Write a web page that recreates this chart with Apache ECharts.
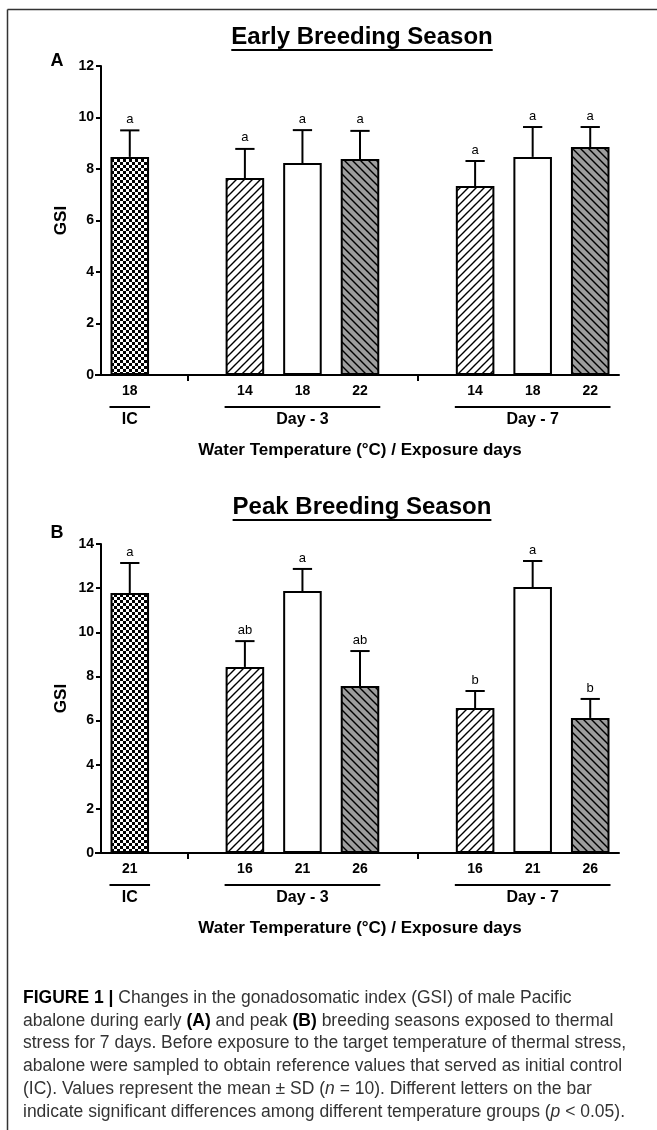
<!DOCTYPE html>
<html><head><meta charset="utf-8">
<script src="https://cdn.jsdelivr.net/npm/echarts@6/dist/echarts.min.js"></script>
<style>html,body{margin:0;padding:0;background:#fff}#c{width:657px;height:1130px}</style>
</head><body><div id="c"></div>
<script>
// ---------- DATA ----------
const tempsA   = ['18', '', '14', '18', '22', '', '14', '18', '22'];
const meanA    = [8.47, null, 7.65, 8.23, 8.39, null, 7.34, 8.47, 8.85];
const sdA      = [1.03, null, 1.13, 1.28, 1.09, null, 0.97, 1.16, 0.78];
const lettersA = ['a', '', 'a', 'a', 'a', '', 'a', 'a', 'a'];
const yTicksA  = [0, 2, 4, 6, 8, 10, 12];

const tempsB   = ['21', '', '16', '21', '26', '', '16', '21', '26'];
const meanB    = [11.78, null, 8.43, 11.87, 7.57, null, 6.57, 12.05, 6.12];
const sdB      = [1.36, null, 1.17, 1.00, 1.58, null, 0.77, 1.18, 0.86];
const lettersB = ['a', '', 'ab', 'a', 'ab', '', 'b', 'a', 'b'];
const yTicksB  = [0, 2, 4, 6, 8, 10, 12, 14];

const groupLabels = ['IC', 'Day - 3', 'Day - 7'];
const groupFirst  = [0, 2, 6];
const groupLast   = [0, 4, 8];

const titleA = 'Early Breeding Season';
const titleB = 'Peak Breeding Season';
const yName = 'GSI';
const xName = 'Water Temperature (\u00B0C) / Exposure days';

const captionLines = [
  '{b|FIGURE 1 |} Changes in the gonadosomatic index (GSI) of male Pacific',
  'abalone during early {b|(A)} and peak {b|(B)} breeding seasons exposed to thermal',
  'stress for 7 days. Before exposure to the target temperature of thermal stress,',
  'abalone were sampled to obtain reference values that served as initial control',
  '(IC). Values represent the mean \u00B1 SD ({i|n} = 10). Different letters on the bar',
  'indicate significant differences among different temperature groups ({i|p} < 0.05).'
];

// ---------- STYLE / LAYOUT ----------
const FONT = '"Liberation Sans", Arial, Helvetica, sans-serif';
const CAP_SIZE = 17.5;
const GRID_LEFT = 101, GRID_W = 518, GRID_H = 309;
const panels = [
  {tag: 'A', cats: tempsA, mean: meanA, sd: sdA, letters: lettersA, ticks: yTicksA, title: titleA, top: 66, titleDy: -29, tagDy: -5},
  {tag: 'B', cats: tempsB, mean: meanB, sd: sdB, letters: lettersB, ticks: yTicksB, title: titleB, top: 544, titleDy: -37, tagDy: -11}
];

function makePattern(kind) {
  const c = document.createElement('canvas');
  const g = c.getContext('2d');
  if (kind === 'check') {
    c.width = 6; c.height = 6;
    g.fillStyle = '#fff'; g.fillRect(0, 0, 6, 6);
    g.fillStyle = '#000'; g.fillRect(0, 0, 3, 3); g.fillRect(3, 3, 3, 3);
  } else {
    const s = 8; c.width = s; c.height = s;
    g.fillStyle = kind === 'back' ? '#9d9d9d' : '#fff'; g.fillRect(0, 0, s, s);
    g.strokeStyle = '#000'; g.lineWidth = 1.4; g.beginPath();
    if (kind === 'fwd') {
      g.moveTo(-1, s + 1); g.lineTo(s + 1, -1);
      g.moveTo(-1, 1); g.lineTo(1, -1);
      g.moveTo(s - 1, s + 1); g.lineTo(s + 1, s - 1);
    } else {
      g.moveTo(-1, -1); g.lineTo(s + 1, s + 1);
      g.moveTo(s - 1, -1); g.lineTo(s + 1, 1);
      g.moveTo(-1, s - 1); g.lineTo(1, s + 1);
    }
    g.stroke();
  }
  return {image: c, repeat: 'repeat'};
}
const PAT = {check: makePattern('check'), fwd: makePattern('fwd'), back: makePattern('back'), plain: '#fff'};
function fillFor(i) {
  for (let g = 0; g < groupFirst.length; g++) {
    if (i >= groupFirst[g] && i <= groupLast[g]) {
      if (g === 0) return PAT.check;
      const k = i - groupFirst[g];
      return k === 0 ? PAT.fwd : (k === 1 ? PAT.plain : PAT.back);
    }
  }
  return '#fff';
}

const chart = echarts.init(document.getElementById('c'), null, {width: 657, height: 1130});

const option = {
  animation: false,
  textStyle: {fontFamily: FONT},
  grid: panels.map(p => ({left: GRID_LEFT, top: p.top, width: GRID_W, height: GRID_H})),
  xAxis: panels.map((p, k) => ({
    type: 'category', gridIndex: k, data: p.cats,
    axisLine: {lineStyle: {color: '#000', width: 2}},
    axisTick: {show: true, alignWithLabel: true, interval: (i) => p.mean[i] == null, length: 6, lineStyle: {color: '#000', width: 2}},
    axisLabel: {interval: 0, color: '#000', fontWeight: 'bold', fontSize: 14, fontFamily: FONT, margin: 9},
    splitLine: {show: false}
  })),
  yAxis: panels.map((p, k) => ({
    type: 'value', gridIndex: k, min: p.ticks[0], max: p.ticks[p.ticks.length - 1], interval: p.ticks[1] - p.ticks[0],
    axisLine: {show: true, lineStyle: {color: '#000', width: 2}},
    axisTick: {show: true, length: 5, lineStyle: {color: '#000', width: 2}},
    axisLabel: {color: '#000', fontWeight: 'bold', fontSize: 14, fontFamily: FONT, margin: 7},
    splitLine: {show: false}
  })),
  series: []
};

panels.forEach((p, k) => {
  option.series.push({
    type: 'bar', xAxisIndex: k, yAxisIndex: k, barWidth: '67%',
    data: p.mean.map((m, i) => m == null ? null : {value: m, itemStyle: {color: fillFor(i)}}),
    itemStyle: {borderColor: '#000', borderWidth: 2}
  });
  option.series.push({
    type: 'custom', xAxisIndex: k, yAxisIndex: k, z: 5,
    encode: {x: 0, y: 1},
    data: p.mean.map((m, i) => m == null ? null : [i, m, p.sd[i]]).filter(d => d),
    renderItem: (params, api) => {
      const i = api.value(0), m = api.value(1), s = api.value(2);
      const a = api.coord([i, m]), b = api.coord([i, m + s]);
      const hw = api.size([1, 0])[0] * 0.67 / 4;
      return {type: 'group', children: [
        {type: 'line', shape: {x1: a[0], y1: a[1], x2: b[0], y2: b[1]}, style: {stroke: '#000', lineWidth: 2}},
        {type: 'line', shape: {x1: b[0] - hw, y1: b[1], x2: b[0] + hw, y2: b[1]}, style: {stroke: '#000', lineWidth: 2}},
        {type: 'text', style: {text: p.letters[i], x: b[0], y: b[1] - 11, align: 'center', verticalAlign: 'middle', fontSize: 13, fontFamily: FONT, fill: '#000'}}
      ]};
    }
  });
});

chart.setOption(option);

// ---------- decorations derived from the axes ----------
const mctx = document.createElement('canvas').getContext('2d');
const graphics = [];
// frame
graphics.push({type: 'line', shape: {x1: 7.5, y1: 9.5, x2: 657, y2: 9.5}, style: {stroke: '#333', lineWidth: 1.5}});
graphics.push({type: 'line', shape: {x1: 7.5, y1: 9.5, x2: 7.5, y2: 1130}, style: {stroke: '#333', lineWidth: 1.5}});

panels.forEach((p, k) => {
  const px = (i, v) => chart.convertToPixel({gridIndex: k}, [i, v]);
  const y0 = px(0, 0)[1];
  const slot = px(1, 0)[0] - px(0, 0)[0];
  const hb = slot * 0.67 / 2;
  const cx = GRID_LEFT + GRID_W / 2;
  // x axis line overhang to the left of the y axis
  graphics.push({type: 'line', shape: {x1: GRID_LEFT - 6, y1: y0, x2: GRID_LEFT, y2: y0}, style: {stroke: '#000', lineWidth: 2}});
  // title + underline
  const tFont = 'bold 24px ' + FONT;
  mctx.font = tFont;
  const tw = mctx.measureText(p.title).width;
  const ty = p.top + p.titleDy;
  graphics.push({type: 'text', x: cx + 2, y: ty, style: {text: p.title, font: tFont, fill: '#000', textAlign: 'center', textVerticalAlign: 'middle'}});
  graphics.push({type: 'line', shape: {x1: cx + 2 - tw / 2, y1: ty + 13, x2: cx + 2 + tw / 2, y2: ty + 13}, style: {stroke: '#000', lineWidth: 2}});
  // panel tag
  graphics.push({type: 'text', x: 57, y: p.top + p.tagDy, style: {text: p.tag, font: 'bold 18px ' + FONT, fill: '#000', textAlign: 'center', textVerticalAlign: 'middle'}});
  // y axis name
  graphics.push({type: 'text', x: 61, y: p.top + GRID_H / 2, rotation: Math.PI / 2, style: {text: yName, font: 'bold 17px ' + FONT, fill: '#000', textAlign: 'center', textVerticalAlign: 'middle'}});
  // group lines and labels
  groupLabels.forEach((lab, g) => {
    const xa = px(groupFirst[g], 0)[0] - hb - 1, xb = px(groupLast[g], 0)[0] + hb + 1;
    graphics.push({type: 'line', shape: {x1: xa, y1: y0 + 32, x2: xb, y2: y0 + 32}, style: {stroke: '#000', lineWidth: 2}});
    graphics.push({type: 'text', x: (xa + xb) / 2, y: y0 + 45, style: {text: lab, font: 'bold 16px ' + FONT, fill: '#000', textAlign: 'center', textVerticalAlign: 'middle'}});
  });
  // x axis name
  graphics.push({type: 'text', x: cx, y: y0 + 75, style: {text: xName, font: 'bold 17px ' + FONT, fill: '#000', textAlign: 'center', textVerticalAlign: 'middle'}});
});

// caption
captionLines.forEach((line, j) => {
  graphics.push({type: 'text', x: 23, y: 998 + j * 22.8, style: {
    text: line, fontSize: CAP_SIZE, fontFamily: FONT, fill: '#333', textVerticalAlign: 'middle',
    rich: {
      b: {fontWeight: 'bold', fontSize: CAP_SIZE, fontFamily: FONT, fill: '#000'},
      i: {fontStyle: 'italic', fontSize: CAP_SIZE, fontFamily: FONT, fill: '#333'}
    }
  }});
});

chart.setOption({graphic: {elements: graphics}});
</script>
</body></html>
